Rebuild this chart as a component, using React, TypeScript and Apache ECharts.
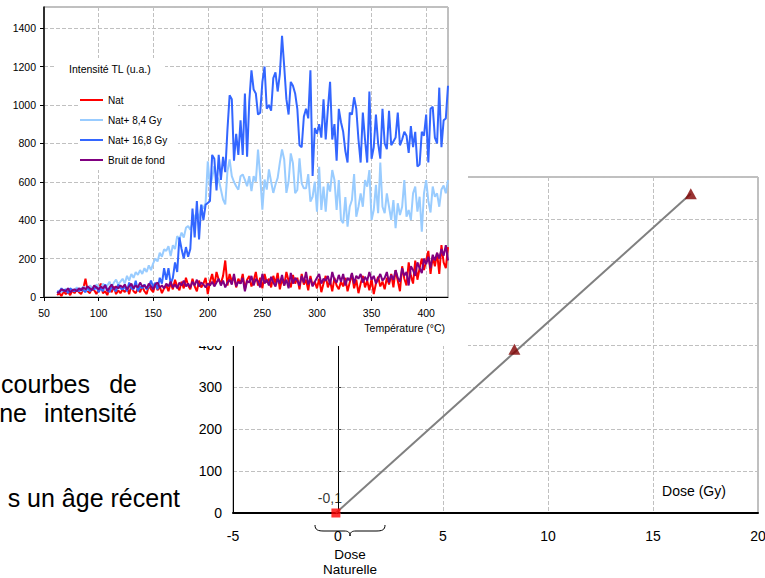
import React, { useEffect, useRef } from "react";
import * as echarts from "echarts";

const FONT = "'Liberation Sans', Arial, Helvetica, sans-serif";

// ---------- TL glow curves (top chart) ----------
const T_START = 62;
const T_STEP = 2;

const NAT = [
  10, 20, 5, 30, 15, 25, 10, 35, 20, 40,
  25, 15, 45, 95, 30, 20, 50, 35, 15, 40,
  70, 20, 30, 10, 45, 25, 55, 15, 35, 20,
  40, 25, 50, 15, 60, 30, 20, 45, 25, 55,
  30, 15, 60, 40, 25, 70, 35, 55, 20, 45,
  60, 30, 75, 40, 90, 55, 35, 80, 45, 100,
  60, 40, 95, 55, 30, 85, 50, 70, 100, 15,
  80, 120, 60, 130, 90, 70, 110, 190, 60, 120,
  80, 105, 50, 95, 70, 120, 40, 90, 110, 55,
  85, 130, 60, 100, 45, 120, 75, 95, 50, 110,
  70, 125, 40, 95, 60, 130, 85, 50, 115, 70,
  100, 40, 120, 65, 90, 35, 110, 60, 80, 45,
  95, 25, 70, 110, 50, 85, 30, 100, 60, 40,
  80, 55, 100, 30, 75, 120, 45, 90, 20, 70,
  110, 50, 85, 35, 95, 15, 70, 105, 55, 80,
  40, 100, 65, 120, 50, 140, 85, 30, 160, 95,
  60, 180, 110, 70, 190, 90, 150, 200, 140, 190,
  240, 120, 210, 160, 230, 120, 270, 180, 150, 260,
];

const NAT_84 = [
  20, 35, 25, 40, 30, 45, 30, 40, 35, 50,
  40, 30, 55, 45, 35, 60, 50, 40, 65, 55,
  45, 70, 55, 60, 80, 50, 75, 90, 65, 80,
  95, 70, 110, 85, 120, 100, 130, 115, 140, 120,
  150, 130, 165, 140, 175, 200, 185, 230, 210, 248,
  240, 265, 213, 270, 250, 317, 300, 335, 310, 360,
  370, 350, 387, 420, 439, 410, 482, 460, 490, 707,
  577, 620, 681, 629, 612, 560, 507, 482, 655, 716,
  629, 600, 577, 559, 629, 638, 610, 577, 629, 551,
  629, 600, 768, 629, 455, 612, 559, 664, 600, 542,
  586, 620, 700, 768, 716, 542, 600, 748, 696, 540,
  557, 722, 592, 566, 566, 640, 497, 522, 600, 444,
  678, 453, 575, 444, 592, 549, 661, 609, 453, 609,
  401, 384, 520, 366, 470, 505, 640, 418, 470, 540,
  470, 609, 575, 661, 401, 453, 584, 436, 700, 470,
  436, 540, 470, 401, 505, 358, 488, 427, 470, 609,
  418, 453, 401, 540, 575, 444, 522, 340, 540, 609,
  500, 440, 575, 522, 540, 470, 560, 580, 540, 609,
];

const NAT_168 = [
  30, 25, 45, 30, 40, 20, 45, 35, 30, 40,
  30, 45, 35, 25, 55, 30, 45, 40, 55, 25,
  45, 30, 65, 40, 25, 55, 40, 30, 65, 45,
  40, 55, 30, 75, 45, 40, 85, 30, 55, 45,
  65, 40, 55, 85, 50, 75, 40, 100, 70, 150,
  90, 150, 70, 100, 180, 130, 310, 250, 200, 260,
  210, 250, 460, 310, 500, 300, 480, 400, 480, 490,
  500, 740, 720, 555, 740, 610, 730, 650, 870, 1050,
  1030, 710, 850, 740, 920, 740, 1060, 730, 1020, 1180,
  1080, 1060, 950, 960, 1120, 1200, 980, 1000, 970, 1140,
  1170, 1070, 1160, 1360, 1200, 1030, 950, 1120, 1100, 1060,
  980, 790, 780, 940, 980, 930, 1180, 630, 880, 850,
  900, 830, 1030, 820, 980, 1120, 820, 900, 710, 980,
  910, 860, 760, 700, 960, 950, 1040, 980, 820, 700,
  960, 820, 700, 1070, 720, 780, 950, 800, 720, 980,
  800, 770, 970, 790, 810, 830, 960, 790, 820, 860,
  840, 750, 890, 780, 860, 680, 690, 860, 840, 950,
  700, 980, 990, 830, 800, 1090, 780, 920, 930, 1100,
];

const BRUIT = [
  20, 25, 40, 35, 30, 45, 25, 35, 40, 30,
  45, 35, 50, 40, 55, 45, 35, 60, 50, 40,
  55, 45, 60, 30, 50, 65, 40, 55, 45, 60,
  50, 65, 40, 55, 70, 45, 60, 50, 75, 55,
  60, 45, 70, 55, 40, 65, 75, 50, 60, 45,
  70, 55, 80, 50, 65, 45, 75, 60, 85, 55,
  70, 50, 80, 60, 90, 55, 75, 65, 50, 70,
  60, 80, 55, 75, 95, 60, 85, 50, 75, 90,
  65, 120, 55, 80, 70, 100, 30, 85, 75, 110,
  60, 95, 80, 50, 120, 70, 90, 60, 105, 75,
  55, 95, 70, 115, 60, 90, 45, 125, 70, 100,
  85, 60, 110, 75, 130, 65, 95, 55, 80, 100,
  120, 70, 95, 85, 110, 65, 130, 90, 75, 115,
  80, 120, 60, 100, 85, 125, 70, 110, 95, 120,
  75, 105, 85, 130, 90, 110, 70, 95, 120, 85,
  100, 130, 75, 115, 90, 140, 100, 80, 150, 110,
  130, 60, 160, 140, 110, 180, 150, 125, 200, 170,
  210, 150, 220, 190, 230, 200, 250, 215, 270, 190,
];

const TEMPS = NAT.map((_, i) => T_START + i * T_STEP);

const TL_NAMES = ["Nat", "Nat+ 8,4 Gy", "Nat+ 16,8 Gy", "Bruit de fond"];
const TL_COLORS = ["#FF0000", "#99CCFF", "#3366FF", "#800080"];
const TL_VALUES = [NAT, NAT_84, NAT_168, BRUIT];

// ---------- Dose response (bottom chart) ----------
const DOSE_LINE = [
  [-0.1, 0],
  [16.8, 760],
];
const DOSE_POINTS = [
  [8.4, 390],
  [16.8, 760],
];
const NATURAL_DOSE = [[-0.1, 0]];

const textEl = (
  text: string,
  x: number,
  y: number,
  size: number,
  align: string = "center",
  z = 10
) => ({
  type: "text",
  x,
  y,
  z,
  style: {
    text,
    fontSize: size,
    fontFamily: FONT,
    fill: "#000",
    align,
    textAlign: align,
    verticalAlign: "middle",
    textVerticalAlign: "middle",
  },
});

export default function App() {
  const bottomRef = useRef<HTMLDivElement>(null);
  const topRef = useRef<HTMLDivElement>(null);

  useEffect(() => {
    const braceD =
      "M0,0 C0,5 3,6 9,6 L29,6 C33,6 35,7 35,11 C35,7 37,6 41,6 L61,6 C67,6 70,5 70,0";
    try {
      echarts.graphic.registerShape(
        "brace",
        echarts.graphic.extendPath(braceD, {}) as any
      );
    } catch (e) {
      /* ignore */
    }

    const bottom = echarts.init(bottomRef.current!, null, { renderer: "svg" });
    const top = echarts.init(topRef.current!, null, { renderer: "svg" });

    const dashed = { show: true, lineStyle: { color: "#C0C0C0", type: "dashed", width: 1 } };

    bottom.setOption({
      animation: false,
      backgroundColor: "#fff",
      textStyle: { fontFamily: FONT },
      grid: {
        left: 233,
        top: 177,
        width: 525,
        height: 336,
        show: true,
        borderColor: "#808080",
        borderWidth: 1,
        backgroundColor: "transparent",
        outerBoundsMode: "none",
        containLabel: false,
      },
      xAxis: {
        type: "value",
        min: -5,
        max: 20,
        interval: 5,
        axisLine: { show: true, onZero: false, lineStyle: { color: "#000", width: 2 } },
        axisTick: { show: false },
        axisLabel: { color: "#000", fontSize: 14, fontFamily: FONT, margin: 16 },
        splitLine: dashed,
      },
      yAxis: [
        {
          type: "value",
          min: 0,
          max: 800,
          interval: 100,
          position: "left",
          axisLine: { show: true, onZero: false, lineStyle: { color: "#000", width: 1 } },
          axisTick: { show: false },
          // labels above 400 lie under the TL chart and are not visible
          axisLabel: {
            color: "#000",
            fontSize: 14,
            fontFamily: FONT,
            margin: 11,
            formatter: (v: number) => (v <= 400 ? String(v) : ""),
          },
          splitLine: dashed,
        },
        {
          type: "value",
          min: 0,
          max: 800,
          interval: 100,
          position: "right",
          axisLine: { show: true, onZero: true, lineStyle: { color: "#000", width: 1 } },
          axisTick: { show: true, length: 3, lineStyle: { color: "#404040" } },
          axisLabel: { show: false },
          splitLine: { show: false },
        },
      ],
      series: [
        {
          type: "line",
          data: DOSE_LINE,
          xAxisIndex: 0,
          yAxisIndex: 0,
          symbol: "none",
          lineStyle: { color: "#808080", width: 2 },
          z: 2,
        },
        {
          type: "scatter",
          data: DOSE_POINTS,
          xAxisIndex: 0,
          yAxisIndex: 0,
          symbol: "triangle",
          symbolSize: [12, 11],
          itemStyle: { color: "#800000" },
          z: 3,
        },
        {
          type: "scatter",
          data: NATURAL_DOSE,
          xAxisIndex: 0,
          yAxisIndex: 0,
          symbol: "rect",
          symbolSize: 9,
          itemStyle: { color: "#FF0000" },
          label: {
            show: true,
            position: "top",
            offset: [-6, 0],
            distance: 4,
            color: "#000",
            fontSize: 14,
            fontFamily: FONT,
            formatter: (p: any) => String(p.value[0]).replace(".", ","),
          },
          z: 4,
        },
      ],
      graphic: [
        textEl("courbes", 90, 384, 25, "right"),
        textEl("de", 137, 384, 25, "right"),
        textEl("ne", 27, 413, 25, "right"),
        textEl("intensité", 137, 413, 25, "right"),
        textEl("s un âge récent", 180, 498, 25, "right"),
        textEl("Dose (Gy)", 694, 491, 14, "center"),
        textEl("Dose", 350, 554, 13.5, "center"),
        textEl("Naturelle", 350, 569, 13.5, "center"),
        {
          type: "brace",
          x: 315,
          y: 525,
          z: 10,
          shape: {},
          style: { stroke: "#000", fill: "none", lineWidth: 1 },
        },
      ],
    });

    top.setOption({
      animation: false,
      backgroundColor: "#fff",
      textStyle: { fontFamily: FONT },
      grid: {
        left: 44,
        top: 7,
        width: 404,
        height: 290,
        show: true,
        borderColor: "#808080",
        borderWidth: 1,
        backgroundColor: "transparent",
        outerBoundsMode: "none",
        containLabel: false,
      },
      legend: {
        show: true,
        orient: "vertical",
        left: 80,
        top: 95,
        icon: "rect",
        itemWidth: 23,
        itemHeight: 2,
        itemGap: 10,
        selectedMode: false,
        padding: 0,
        textStyle: { fontSize: 10, color: "#000", fontFamily: FONT },
        data: TL_NAMES,
        z: 6,
      },
      xAxis: {
        type: "value",
        min: 50,
        max: 420,
        interval: 50,
        axisLine: { show: true, onZero: false, lineStyle: { color: "#000", width: 1 } },
        axisTick: { show: true, length: 4, lineStyle: { color: "#000" } },
        axisLabel: {
          color: "#000",
          fontSize: 10.5,
          fontFamily: FONT,
          margin: 10,
          showMaxLabel: false,
          formatter: (v: number) => String(v),
        },
        splitLine: dashed,
      },
      yAxis: {
        type: "value",
        min: 0,
        max: 1510,
        interval: 200,
        axisLine: { show: true, onZero: false, lineStyle: { color: "#000", width: 1.5 } },
        axisTick: { show: true, length: 4, lineStyle: { color: "#000" } },
        axisLabel: {
          color: "#000",
          fontSize: 10.5,
          fontFamily: FONT,
          margin: 8,
          showMaxLabel: false,
          formatter: (v: number) => String(v),
        },
        splitLine: dashed,
      },
      series: TL_NAMES.map((name, k) => ({
        name,
        type: "line",
        data: TEMPS.map((t, i) => [t, TL_VALUES[k][i]]),
        symbol: "none",
        showSymbol: false,
        lineStyle: { color: TL_COLORS[k], width: 2 },
        itemStyle: { color: TL_COLORS[k] },
        z: 2,
      })),
      graphic: [
        {
          type: "rect",
          z: 4,
          shape: { x: 55, y: 58, width: 110, height: 21 },
          style: { fill: "#fff" },
        },
        {
          type: "rect",
          z: 4,
          shape: { x: 78, y: 79, width: 100, height: 91 },
          style: { fill: "#fff" },
        },
        textEl("Intensité TL (u.a.)", 69, 69, 10.5, "left", 7),
        textEl("Température (°C)", 445, 328, 10.5, "right", 7),
      ],
    });

    return () => {
      bottom.dispose();
      top.dispose();
    };
  }, []);

  return (
    <div
      style={{
        position: "absolute",
        left: 0,
        top: 0,
        width: 765,
        height: 578,
        background: "#fff",
        overflow: "hidden",
      }}
    >
      <div
        ref={bottomRef}
        style={{ position: "absolute", left: 0, top: 0, width: 765, height: 578 }}
      />
      <div
        ref={topRef}
        style={{
          position: "absolute",
          left: 0,
          top: 0,
          width: 468,
          height: 346,
          background: "#fff",
        }}
      />
    </div>
  );
}
